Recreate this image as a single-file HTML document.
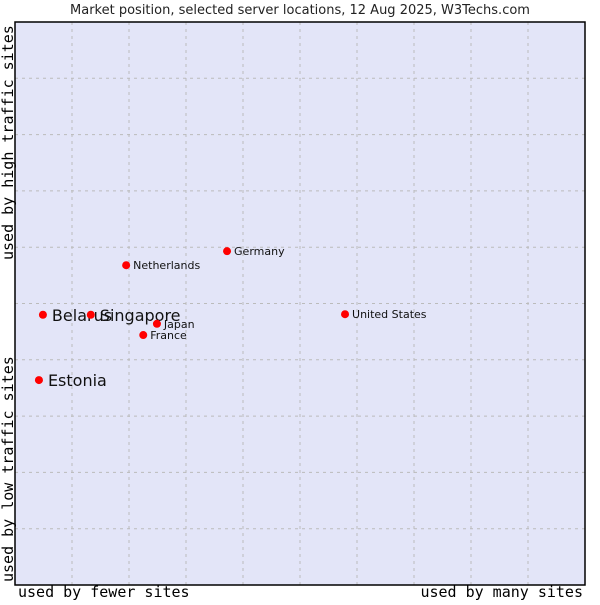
<!DOCTYPE html>
<html><head><meta charset="utf-8"><style>
body{margin:0;background:#fff;}
text{font-family:"DejaVu Sans","Liberation Sans",sans-serif;}
.mono{font-family:"DejaVu Sans Mono","Liberation Mono",monospace;}
</style></head><body>
<svg id="chart" width="600" height="600" viewBox="0 0 600 600" xmlns="http://www.w3.org/2000/svg">
<text x="300" y="14" text-anchor="middle" font-size="13" fill="#222">Market position, selected server locations, 12 Aug 2025, W3Techs.com</text>
<rect x="15" y="22" width="570" height="563" fill="#e3e5f8"/>
<g id="grid"></g>
<rect x="15" y="22" width="570" height="563" fill="none" stroke="#000" stroke-width="1.5"/>
<text class="mono" x="18" y="597" font-size="15" fill="#000">used by fewer sites</text>
<text class="mono" x="583" y="597" font-size="15" fill="#000" text-anchor="end">used by many sites</text>
<text class="mono" transform="translate(13,260) rotate(-90)" font-size="15" fill="#000">used by high traffic sites</text>
<text class="mono" transform="translate(13,582) rotate(-90)" font-size="15" fill="#000">used by low traffic sites</text>
<g id="points"></g>
</svg>
<script>
const names = ["Belarus","Singapore","Japan","France","Estonia","Netherlands","Germany","United States"];
const xVals = [4.9,13.3,24.9,22.5,4.2,19.5,37.2,57.9];
const yVals = [48.0,48.0,46.4,44.4,36.4,56.8,59.3,48.1];
const labelSizes = [16,16,11,11,16,11,11,11];
const X0=15,W=570,Y0=585,H=563;
const sx=v=>X0+v/100*W, sy=v=>Y0-v/100*H;
const NS="http://www.w3.org/2000/svg";
const grid=document.getElementById('grid');
for(let i=1;i<10;i++){
  const l=document.createElementNS(NS,'line');
  const x=X0+i*W/10;
  l.setAttribute('x1',x);l.setAttribute('x2',x);l.setAttribute('y1',22);l.setAttribute('y2',585);
  l.setAttribute('stroke','#bbb');l.setAttribute('stroke-dasharray','3,4');
  
  
  grid.appendChild(l);
  const m=document.createElementNS(NS,'line');
  const y=22+i*H/10;
  m.setAttribute('x1',15);m.setAttribute('x2',585);m.setAttribute('y1',y);m.setAttribute('y2',y);
  m.setAttribute('stroke','#bbb');m.setAttribute('stroke-dasharray','3,4');
  
  
  grid.appendChild(m);
}
const pts=document.getElementById('points');
names.forEach((n,i)=>{
  const x=sx(xVals[i]),y=sy(yVals[i]);
  const c=document.createElementNS(NS,'circle');
  c.setAttribute('cx',x);c.setAttribute('cy',y);c.setAttribute('r',4);c.setAttribute('fill','#f00');
  
  
  pts.appendChild(c);
  const t=document.createElementNS(NS,'text');
  const fs=labelSizes[i];
  t.setAttribute('x',x+(fs>12?9:7));t.setAttribute('y',y+(fs>12?6:4));
  t.setAttribute('font-size',fs);t.setAttribute('fill','#111');
  t.textContent=n;
  
  
  pts.appendChild(t);
});
</script>
</body></html>
